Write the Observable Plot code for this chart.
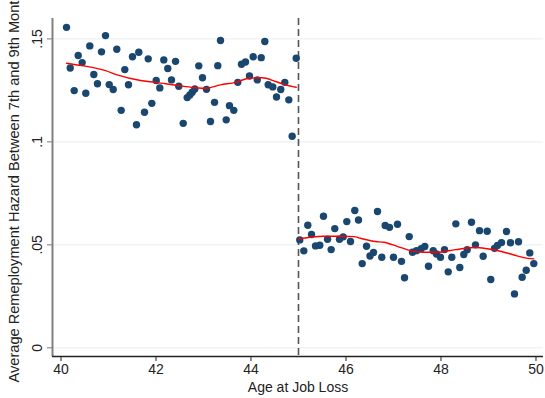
<!DOCTYPE html>
<html>
<head>
<meta charset="utf-8">
<script src="https://cdn.jsdelivr.net/npm/d3@7"></script>
<script src="https://cdn.jsdelivr.net/npm/@observablehq/plot@0.6"></script>
<style>
  html, body { margin: 0; padding: 0; background: #fff; }
  #chart svg { display: block; }
</style>
</head>
<body>
<div id="chart"></div>
<script>
// Binned means, left of cutoff (age, hazard)
const leftAge = [40.116,40.194,40.278,40.362,40.446,40.522,40.606,40.691,40.768,40.853,40.937,41.015,41.099,41.175,41.267,41.343,41.421,41.505,41.589,41.638,41.758,41.836,41.912,42.004,42.080,42.164,42.248,42.326,42.411,42.480,42.573,42.657,42.712,42.762,42.817,42.901,42.979,43.063,43.147,43.232,43.301,43.358,43.478,43.547,43.638,43.722,43.800,43.884,43.968,44.046,44.131,44.215,44.291,44.362,44.459,44.537,44.627,44.712,44.796,44.867,44.952];
const leftHazard = [0.1556,0.1359,0.1249,0.1419,0.1385,0.1236,0.1466,0.1327,0.1282,0.1437,0.1516,0.1278,0.1254,0.1450,0.1153,0.1351,0.1277,0.1413,0.1083,0.1435,0.1144,0.1403,0.1187,0.1298,0.1262,0.1398,0.1356,0.1301,0.1391,0.1270,0.1090,0.1215,0.1228,0.1241,0.1257,0.1369,0.1311,0.1255,0.1099,0.1192,0.1370,0.1492,0.1107,0.1176,0.1153,0.1289,0.1377,0.1388,0.1320,0.1413,0.1301,0.1409,0.1487,0.1277,0.1267,0.1218,0.1254,0.1289,0.1204,0.1027,0.1406];
// Binned means, right of cutoff
const rightAge = [45.027,45.112,45.196,45.274,45.358,45.448,45.526,45.611,45.688,45.764,45.863,45.941,46.017,46.095,46.185,46.263,46.341,46.432,46.505,46.579,46.663,46.754,46.825,46.916,47.000,47.084,47.168,47.232,47.331,47.400,47.484,47.583,47.659,47.737,47.836,47.905,47.989,48.074,48.152,48.227,48.312,48.396,48.480,48.552,48.642,48.726,48.811,48.888,48.973,49.048,49.126,49.189,49.274,49.379,49.463,49.547,49.632,49.709,49.794,49.869,49.954];
const rightHazard = [0.0524,0.0471,0.0595,0.0550,0.0495,0.0498,0.0639,0.0527,0.0477,0.0579,0.0527,0.0539,0.0613,0.0516,0.0667,0.0621,0.0409,0.0493,0.0446,0.0463,0.0662,0.0440,0.0594,0.0585,0.0440,0.0600,0.0420,0.0340,0.0540,0.0464,0.0472,0.0481,0.0492,0.0396,0.0472,0.0456,0.0440,0.0477,0.0369,0.0440,0.0602,0.0390,0.0453,0.0476,0.0610,0.0500,0.0569,0.0445,0.0566,0.0332,0.0483,0.0497,0.0511,0.0565,0.0510,0.0262,0.0515,0.0343,0.0377,0.0461,0.0409];
// Smoothed fits
const leftFitAge = [40.116,40.446,40.937,41.183,41.674,41.989,42.480,42.796,43.042,43.358,43.674,43.954,44.236,44.516,44.726,44.952];
const leftFitHazard = [0.1382,0.1370,0.1346,0.1325,0.1298,0.1289,0.1273,0.1264,0.1260,0.1277,0.1289,0.1309,0.1311,0.1293,0.1277,0.1265];
const rightFitAge = [45.006,45.253,45.533,45.884,46.164,46.305,46.621,46.796,47.078,47.358,47.638,47.920,48.305,48.726,48.973,49.253,49.533,49.743,49.954];
const rightFitHazard = [0.0529,0.0537,0.0542,0.0542,0.0540,0.0532,0.0516,0.0513,0.0493,0.0472,0.0464,0.0464,0.0477,0.0487,0.0481,0.0469,0.0451,0.0438,0.0432];

const cutoff = 45;
const xTicks = [40, 42, 44, 46, 48, 50];
const yTicks = [0, 0.05, 0.1, 0.15];
const yTickLabels = ["0", ".05", ".1", ".15"];
const xTitle = "Age at Job Loss";
const yTitle = "Average Remeployment Hazard Between 7th and 9th Month";

const pts = [
  ...leftAge.map((a, i) => ({age: a, h: leftHazard[i]})),
  ...rightAge.map((a, i) => ({age: a, h: rightHazard[i]}))
];
const fitL = leftFitAge.map((a, i) => ({age: a, h: leftFitHazard[i]}));
const fitR = rightFitAge.map((a, i) => ({age: a, h: rightFitHazard[i]}));

const xDom = [39.821, 50.158];
const yDom = [-0.0042, 0.1599];
const font = "'Liberation Sans', Arial, sans-serif";

const chart = Plot.plot({
  width: 545,
  height: 398,
  marginLeft: 52,
  marginRight: 2,
  marginTop: 18,
  marginBottom: 42,
  style: {fontFamily: font, fontSize: "14px", background: "#fff", color: "#222"},
  x: {domain: xDom},
  y: {domain: yDom},
  marks: [
    Plot.gridY(yTicks, {stroke: "#e6eff1", strokeOpacity: 1, strokeWidth: 1}),
    Plot.axisX({ticks: xTicks, tickSize: 5, tickPadding: 3, fontSize: 14, label: null, stroke: "#222"}),
    Plot.axisY({ticks: yTicks, tickFormat: (d) => yTickLabels[yTicks.indexOf(d)], tickSize: 5, tickRotate: -90, tickPadding: 6, fontSize: 14, label: null, stroke: "#777"}),
    Plot.ruleX([xDom[0]], {stroke: "#808080", strokeWidth: 2}),
    Plot.ruleY([yDom[0]], {stroke: "#222", strokeWidth: 1.5}),
    Plot.ruleX([cutoff], {stroke: "#555", strokeWidth: 1.6, strokeDasharray: "7,4"}),
    Plot.dot(pts, {x: "age", y: "h", r: 3.7, fill: "#1a476f", stroke: null}),
    Plot.line(fitL, {x: "age", y: "h", stroke: "#ff0000", strokeWidth: 1.4, curve: "monotone-x"}),
    Plot.line(fitR, {x: "age", y: "h", stroke: "#ff0000", strokeWidth: 1.4, curve: "monotone-x"}),
    Plot.text([xTitle], {frameAnchor: "bottom", lineAnchor: "middle", textAnchor: "middle", dy: 31, fontSize: 14, fill: "#222"}),
    Plot.text([yTitle], {frameAnchor: "left", lineAnchor: "middle", textAnchor: "middle", dx: -38, rotate: -90, fontSize: 14.6, fill: "#222"})
  ]
});
document.getElementById("chart").appendChild(chart);
</script>
</body>
</html>
